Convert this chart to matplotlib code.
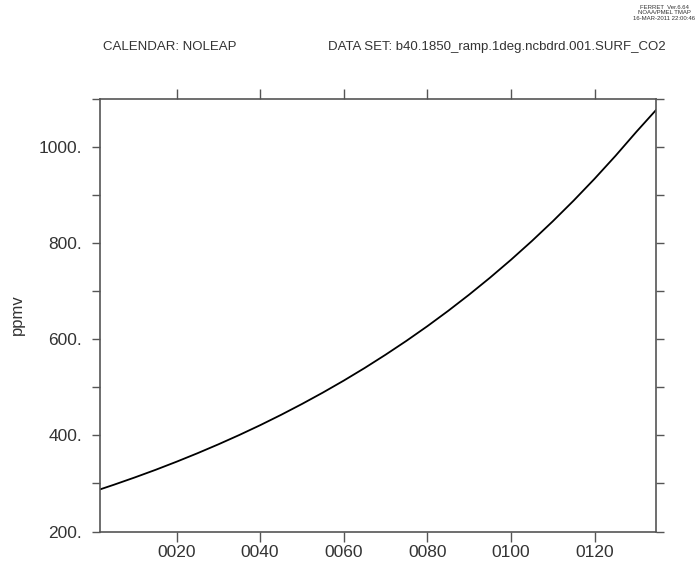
import matplotlib.pyplot as plt

# surface CO2 (ppmv) against model year, 1%/yr ramp run
years = [1.7, 5, 10, 15, 20, 25, 30, 35, 40, 45, 50, 55, 60, 65, 70,
         75, 80, 85, 90, 95, 100, 105, 110, 115, 120, 125, 130, 134.7]
co2 = [287.5, 297.1, 312.3, 328.2, 345.0, 362.6, 381.1, 400.5, 420.9,
       442.4, 465.0, 488.7, 513.6, 539.8, 567.4, 596.3, 626.7, 658.7,
       692.3, 727.6, 764.7, 803.7, 844.7, 887.8, 933.1, 980.7, 1030.7, 1076.0]

x_ticks = [20, 40, 60, 80, 100, 120]
x_labels = ['0020', '0040', '0060', '0080', '0100', '0120']
y_major = [200, 400, 600, 800, 1000]
y_minor = [300, 500, 700, 900, 1100]

plt.rcParams['font.family'] = ['Liberation Sans', 'DejaVu Sans']
txt = '#333333'
frame = '#555555'

fig = plt.figure(figsize=(6.97, 5.65), dpi=100)
ax = fig.add_axes([100 / 697, 33.5 / 565, 556 / 697, 433 / 565])
ax.plot(years, co2, color='black', linewidth=1.3)

ax.set_xlim(1.7, 134.7)
ax.set_ylim(200, 1100)
ax.set_xticks(x_ticks)
ax.set_xticklabels(x_labels)
ax.set_yticks(y_major)
ax.set_yticklabels(['%d.' % v for v in y_major])
ax.set_yticks(y_minor, minor=True)

for s in ax.spines.values():
    s.set_color(frame)
    s.set_linewidth(1.2)

ax.tick_params(axis='x', which='major', direction='out', length=7.5, width=1,
               color=frame, top=True, labelsize=12.5, labelcolor=txt, pad=2)
ax.tick_params(axis='y', which='both', direction='out', length=6, width=1,
               color=frame, right=True, labelsize=12.5, labelcolor=txt, pad=7)

ax.set_ylabel('ppmv', fontsize=12, color=txt)
ax.yaxis.set_label_coords(-0.135, 0.5)

fig.text(103 / 697, 1 - 47 / 565, 'CALENDAR: NOLEAP', fontsize=9.5,
         color=txt, va='center', ha='left')
fig.text(328 / 697, 1 - 47 / 565,
         'DATA SET: b40.1850_ramp.1deg.ncbdrd.001.SURF_CO2', fontsize=9.5,
         color=txt, va='center', ha='left')
fig.text(664 / 697, 1 - 13 / 565,
         'FERRET  Ver.6.64\nNOAA/PMEL TMAP\n16-MAR-2011 22:00:46',
         fontsize=4.3, color=txt, va='center', ha='center', linespacing=1.1)

fig.savefig('out.png', dpi=100)
